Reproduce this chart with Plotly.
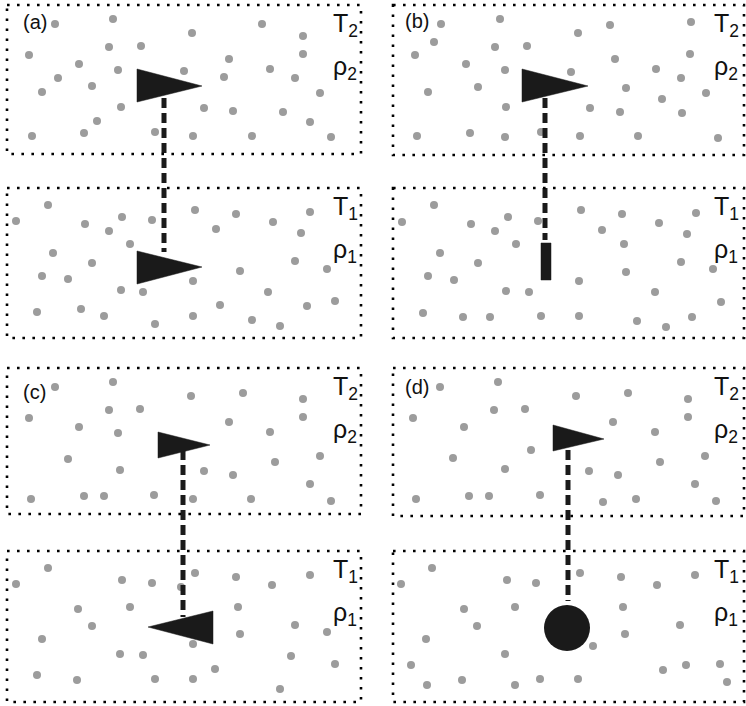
import plotly.graph_objects as go

W, H = 746, 706

# ---- panel boxes (pixel coordinates) ----
box_x0 = [7, 7, 393, 393, 7, 7, 393, 393]
box_x1 = [361, 361, 744, 744, 361, 361, 744, 744]
box_y0 = [5, 188, 5, 188, 368, 551, 368, 551]
box_y1 = [154, 338, 155, 338, 514, 702, 516, 702]
box_T = ["T<sub>2</sub>", "T<sub>1</sub>"] * 4
box_rho = ["ρ<sub>2</sub>", "ρ<sub>1</sub>"] * 4
box_lab_x = [331, 331, 712, 712, 331, 331, 712, 712]

panel_labels = ["(a)", "(b)", "(c)", "(d)"]
panel_lab_x = [21, 403, 21, 403]
panel_lab_y = [22, 21, 392, 387]

# ---- gas particles ----
a_top_x = [55, 113, 29, 109, 141, 192, 262, 303, 303, 79, 118, 58, 42, 92, 184, 229, 224, 270, 295, 320, 121, 97, 204, 233, 283, 310, 32, 84, 155, 193, 252, 331]
a_top_y = [24, 19, 55, 47, 46, 33, 24, 36, 54, 64, 70, 78, 92, 86, 71, 59, 77, 69, 78, 93, 107, 121, 108, 111, 112, 122, 136, 133, 132, 136, 136, 137]
a_bot_x = [48, 16, 85, 122, 109, 152, 195, 236, 273, 310, 216, 301, 130, 53, 92, 42, 68, 193, 240, 295, 327, 121, 143, 268, 220, 307, 335, 37, 81, 104, 155, 193, 252, 280]
a_bot_y = [205, 221, 224, 217, 231, 220, 210, 214, 222, 212, 229, 233, 244, 253, 263, 276, 279, 281, 271, 261, 269, 290, 292, 292, 305, 306, 301, 312, 309, 316, 324, 316, 320, 326]
b_top_x = [441, 500, 434, 415, 495, 527, 578, 610, 691, 690, 615, 466, 505, 571, 656, 681, 428, 478, 626, 706, 662, 506, 590, 620, 682, 417, 470, 505, 541, 580, 638, 718]
b_top_y = [24, 19, 42, 55, 47, 46, 33, 25, 22, 54, 59, 64, 70, 72, 69, 78, 92, 87, 88, 93, 99, 107, 108, 112, 113, 136, 133, 137, 132, 136, 136, 138]
b_bot_x = [434, 402, 471, 508, 495, 538, 581, 622, 659, 696, 602, 687, 516, 624, 440, 478, 428, 454, 579, 626, 681, 713, 506, 529, 655, 721, 423, 463, 490, 541, 579, 637, 666, 692]
b_bot_y = [205, 222, 224, 217, 231, 221, 210, 214, 223, 213, 230, 234, 244, 244, 253, 263, 276, 280, 281, 272, 262, 269, 291, 292, 292, 302, 313, 317, 317, 316, 316, 321, 327, 317]
c_top_x = [55, 113, 29, 109, 140, 191, 243, 303, 303, 79, 118, 229, 270, 68, 120, 275, 320, 204, 233, 310, 31, 84, 104, 154, 193, 251, 331]
c_top_y = [387, 382, 418, 410, 409, 396, 393, 399, 417, 427, 433, 422, 432, 459, 470, 462, 456, 471, 475, 484, 499, 496, 496, 495, 499, 499, 501]
c_bot_x = [48, 16, 122, 152, 181, 195, 236, 272, 310, 78, 130, 238, 92, 42, 193, 240, 295, 327, 120, 143, 291, 335, 215, 37, 77, 155, 193, 280]
c_bot_y = [568, 584, 580, 583, 587, 573, 577, 585, 575, 609, 607, 607, 626, 639, 644, 634, 625, 632, 654, 655, 656, 664, 669, 675, 680, 679, 679, 689]
d_top_x = [440, 498, 413, 494, 525, 576, 628, 688, 688, 464, 613, 655, 531, 453, 505, 660, 705, 589, 618, 695, 416, 469, 489, 540, 603, 636, 716]
d_top_y = [387, 382, 418, 410, 409, 396, 393, 399, 417, 427, 422, 432, 450, 458, 469, 462, 456, 471, 475, 484, 499, 496, 496, 495, 502, 499, 501]
d_bot_x = [432, 401, 507, 536, 580, 621, 657, 695, 464, 515, 623, 477, 426, 625, 680, 593, 505, 411, 663, 686, 720, 427, 462, 515, 540, 578, 727]
d_bot_y = [568, 584, 580, 583, 573, 577, 585, 575, 609, 607, 607, 626, 639, 634, 625, 646, 654, 665, 670, 665, 664, 685, 680, 685, 679, 679, 682]

dots_x = [a_top_x, a_bot_x, b_top_x, b_bot_x, c_top_x, c_bot_x, d_top_x, d_bot_x]
dots_y = [a_top_y, a_bot_y, b_top_y, b_bot_y, c_top_y, c_bot_y, d_top_y, d_bot_y]

# ---- flags (polygons) ----
flags_x = [[137, 137, 202], [137, 137, 202], [522, 522, 588], [541, 541, 551, 551],
           [158, 158, 210], [213, 213, 148], [553, 553, 604]]
flags_y = [[69, 102, 86], [251, 284, 267], [69, 102, 86], [243, 280, 280, 243],
           [432, 458, 445], [611, 644, 627], [425, 451, 439]]

# ---- connecting dashed lines ----
link_x = [164, 545, 183, 568]
link_y0 = [98, 98, 450, 450]
link_y1 = [252, 240, 617, 601]

# ---- ball in (d) ----
ball_x = [567]
ball_y = [628]

DOT = "#9c9c9c"
INK = "#1a1a1a"
FONT = "Liberation Sans, Arial, sans-serif"

fig = go.Figure()

for xs, ys in zip(dots_x, dots_y):
    fig.add_trace(go.Scatter(x=xs, y=ys, mode="markers",
                             marker=dict(size=8, color=DOT, line=dict(width=0)),
                             hoverinfo="skip", showlegend=False))

for lx, a, b in zip(link_x, link_y0, link_y1):
    fig.add_trace(go.Scatter(x=[lx, lx], y=[a, b], mode="lines",
                             line=dict(color=INK, width=5, dash="10px,5px"),
                             hoverinfo="skip", showlegend=False))

for fx, fy in zip(flags_x, flags_y):
    fig.add_trace(go.Scatter(x=fx + [fx[0]], y=fy + [fy[0]], mode="lines",
                             fill="toself", fillcolor=INK,
                             line=dict(color=INK, width=0.5),
                             hoverinfo="skip", showlegend=False))

fig.add_trace(go.Scatter(x=ball_x, y=ball_y, mode="markers",
                         marker=dict(size=46, color=INK, line=dict(width=0)),
                         hoverinfo="skip", showlegend=False))

for x0, x1, y0, y1 in zip(box_x0, box_x1, box_y0, box_y1):
    fig.add_shape(type="rect", x0=x0, x1=x1, y0=y0, y1=y1,
                  line=dict(color="black", width=2.6, dash="2.6px,7.4px"))

for x, y0, tT, tR in zip(box_lab_x, box_y0, box_T, box_rho):
    fig.add_annotation(x=x, y=y0 + 20, text=tT, showarrow=False, xanchor="left",
                       yanchor="middle", font=dict(size=25, color="#111111", family=FONT))
    fig.add_annotation(x=x, y=y0 + 63, text=tR, showarrow=False, xanchor="left",
                       yanchor="middle", font=dict(size=25, color="#111111", family=FONT))

for t, x, y in zip(panel_labels, panel_lab_x, panel_lab_y):
    fig.add_annotation(x=x, y=y, text=t, showarrow=False, xanchor="left",
                       yanchor="middle", font=dict(size=20, color="#111111", family=FONT))

fig.update_layout(width=W, height=H, margin=dict(l=0, r=0, t=0, b=0),
                  paper_bgcolor="white", plot_bgcolor="white",
                  xaxis=dict(range=[0, W], visible=False, fixedrange=True),
                  yaxis=dict(range=[H, 0], visible=False, fixedrange=True))

fig.write_html("out.html", config={"displayModeBar": False},
               post_script="document.body.style.margin='0';")
